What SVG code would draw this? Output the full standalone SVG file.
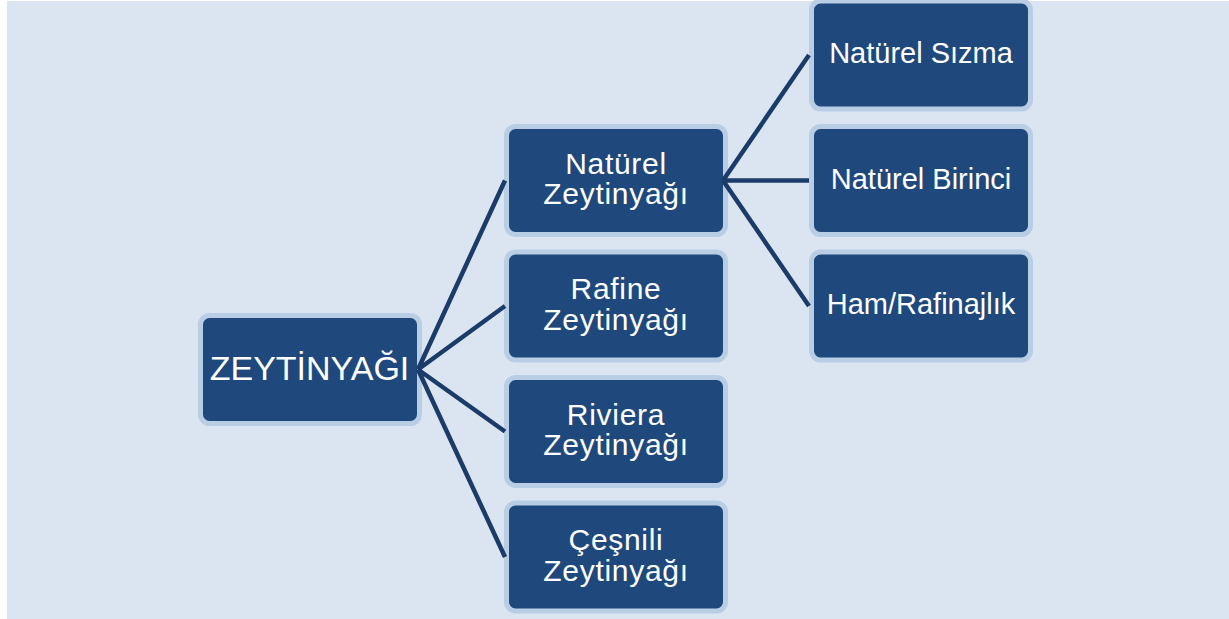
<svg xmlns="http://www.w3.org/2000/svg" width="1229" height="619" viewBox="0 0 1229 619">
<style>
.node{fill:#1f497d;stroke:#b9cde5;stroke-width:5}
.t{fill:#ffffff;font-family:"Liberation Sans",Arial,sans-serif;text-anchor:middle}
.m{font-size:30px;letter-spacing:0.7px}
.r{font-size:29px}
.c{stroke:#1b3c68;stroke-width:4.5;fill:none;stroke-linecap:butt}
</style>
<rect x="0" y="0" width="1229" height="619" fill="#ffffff"/>
<rect x="7" y="1" width="1222" height="618" fill="#dbe5f1"/>
<g id="root"><rect class="node" x="200.5" y="315.5" width="219" height="108" rx="9"/><text class="t" x="309.5" y="379.5" font-size="34">ZEYTİNYAĞI</text></g>
<g id="naturel"><rect class="node" x="506.5" y="126.5" width="219" height="108" rx="9"/><text class="t m" x="616" y="173.5">Natürel</text><text class="t m" x="616" y="204">Zeytinyağı</text></g>
<g id="rafine"><rect class="node" x="506.5" y="252" width="219" height="108" rx="9"/><text class="t m" x="616" y="299">Rafine</text><text class="t m" x="616" y="329.5">Zeytinyağı</text></g>
<g id="riviera"><rect class="node" x="506.5" y="377.5" width="219" height="108" rx="9"/><text class="t m" x="616" y="424.5">Riviera</text><text class="t m" x="616" y="455">Zeytinyağı</text></g>
<g id="cesnili"><rect class="node" x="506.5" y="503" width="219" height="108" rx="9"/><text class="t m" x="616" y="550">Çeşnili</text><text class="t m" x="616" y="580.5">Zeytinyağı</text></g>
<g id="sizma"><rect class="node" x="811.5" y="1" width="219" height="108" rx="9"/><text class="t r" x="921" y="63.3">Natürel Sızma</text></g>
<g id="birinci"><rect class="node" x="811.5" y="126.5" width="219" height="108" rx="9"/><text class="t r" x="921" y="188.5">Natürel Birinci</text></g>
<g id="ham"><rect class="node" x="811.5" y="252" width="219" height="108" rx="9"/><text class="t r" x="921" y="314">Ham/Rafinajlık</text></g>
<g id="connectors">
<path class="c" d="M418 369.5L505 180.5M418 369.5L505 306M418 369.5L505 431.5M418 369.5L505 557"/>
<path class="c" d="M723 180.5L809 55M723 180.5L809 180.5M723 180.5L809 306"/>
</g>
</svg>
